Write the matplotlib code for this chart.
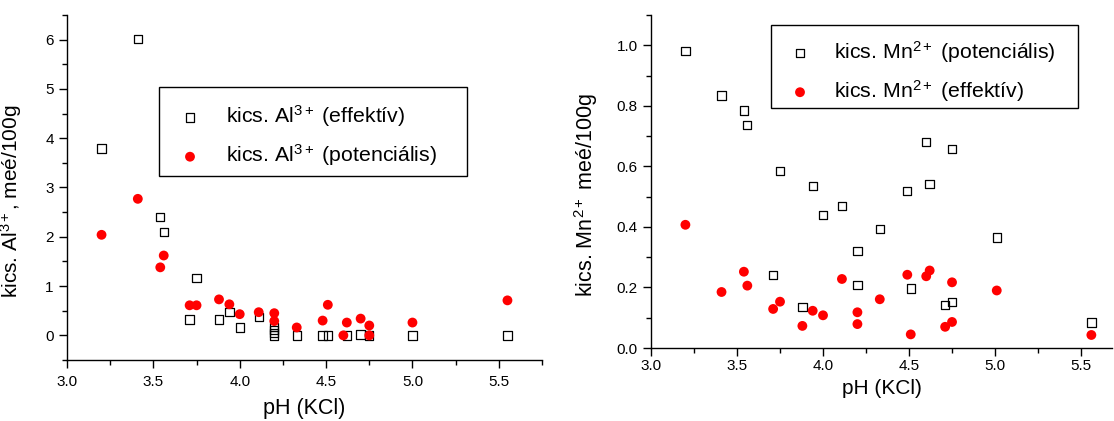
import matplotlib
matplotlib.use("Agg")
import matplotlib.pyplot as plt
from matplotlib.ticker import MultipleLocator
from matplotlib.patches import Rectangle

plt.rcParams['font.family'] = ['Liberation Sans', 'DejaVu Sans']
plt.rcParams['mathtext.fontset'] = 'custom'
plt.rcParams['mathtext.rm'] = 'Liberation Sans'
plt.rcParams['mathtext.it'] = 'Liberation Sans:italic'

# ---- Left panel: Al3+ ----
al_eff_ph = [3.20, 3.41, 3.54, 3.56, 3.75, 3.71, 3.88, 3.94, 4.00, 4.11,
             4.20, 4.20, 4.20, 4.20, 4.33, 4.48, 4.51, 4.62, 4.70, 4.75, 5.00, 5.55]
al_eff = [3.79, 6.01, 2.40, 2.10, 1.16, 0.32, 0.32, 0.47, 0.16, 0.37,
          0.17, 0.11, 0.05, 0.00, 0.00, 0.00, 0.00, 0.00, 0.02, 0.00, 0.00, 0.00]

al_pot_ph = [3.20, 3.41, 3.54, 3.56, 3.71, 3.75, 3.88, 3.94, 4.00, 4.11,
             4.20, 4.20, 4.33, 4.48, 4.51, 4.60, 4.62, 4.70, 4.75, 4.75, 5.00, 5.55]
al_pot = [2.04, 2.77, 1.38, 1.62, 0.61, 0.61, 0.73, 0.63, 0.43, 0.47,
          0.45, 0.29, 0.16, 0.30, 0.62, 0.00, 0.26, 0.34, 0.20, 0.00, 0.26, 0.71]

# ---- Right panel: Mn2+ ----
mn_ph = [3.20, 3.41, 3.54, 3.56, 3.71, 3.75, 3.88, 3.94, 4.00, 4.11,
         4.20, 4.20, 4.33, 4.49, 4.51, 4.60, 4.62, 4.71, 4.75, 4.75, 5.01, 5.56]
mn_pot = [0.982, 0.834, 0.785, 0.737, 0.241, 0.584, 0.136, 0.536, 0.439, 0.469,
          0.321, 0.208, 0.393, 0.519, 0.197, 0.680, 0.541, 0.141, 0.657, 0.151, 0.365, 0.084]
mn_eff = [0.407, 0.185, 0.252, 0.206, 0.129, 0.153, 0.073, 0.123, 0.108, 0.228,
          0.118, 0.079, 0.161, 0.242, 0.045, 0.237, 0.256, 0.070, 0.217, 0.086, 0.190, 0.043]

W, H = 1114, 421
fig = plt.figure(figsize=(W / 100, H / 100), dpi=100)

def px_axes(l, r, t, b):
    return fig.add_axes([l / W, 1 - b / H, (r - l) / W, (b - t) / H])

def fx(x):
    return x / W

def fy(y):
    return 1 - y / H

ax1 = px_axes(67, 542, 15, 360)
ax2 = px_axes(651, 1112, 15, 348)

sq = dict(marker='s', s=36, facecolors='none', edgecolors='black', linewidths=0.9)
ci = dict(marker='o', s=50, color='#ff0000', edgecolors='none')

AL = r'$\mathrm{Al}^{\mathrm{3+}}$'
MN = r'$\mathrm{Mn}^{\mathrm{2+}}$'

ax1.scatter(al_eff_ph, al_eff, label='kics. ' + AL + ' (effektív)', zorder=3, **sq)
ax1.scatter(al_pot_ph, al_pot, label='kics. ' + AL + ' (potenciális)', zorder=4, **ci)
ax1.set_xlim(3.0, 5.75)
ax1.set_ylim(-0.5, 6.5)
ax1.xaxis.set_major_locator(MultipleLocator(0.5))
ax1.xaxis.set_minor_locator(MultipleLocator(0.25))
ax1.yaxis.set_major_locator(MultipleLocator(1))
ax1.yaxis.set_minor_locator(MultipleLocator(0.5))
ax1.set_xlabel('pH (KCl)', fontsize=15.5, labelpad=6)
ax1.set_ylabel('kics. ' + AL + ', meé/100g', fontsize=15)
ax1.yaxis.set_label_coords(-0.09, 0.46)

ax2.scatter(mn_ph, mn_pot, label='kics. ' + MN + ' (potenciális)', zorder=3, **sq)
ax2.scatter(mn_ph, mn_eff, label='kics. ' + MN + ' (effektív)', zorder=4, **ci)
ax2.set_xlim(3.0, 5.68)
ax2.set_ylim(0.0, 1.1)
ax2.xaxis.set_major_locator(MultipleLocator(0.5))
ax2.xaxis.set_minor_locator(MultipleLocator(0.25))
ax2.yaxis.set_major_locator(MultipleLocator(0.2))
ax2.yaxis.set_minor_locator(MultipleLocator(0.1))
ax2.set_xlabel('pH (KCl)', fontsize=15, labelpad=4)
ax2.set_ylabel('kics. ' + MN + ' meé/100g', fontsize=15.5)
ax2.yaxis.set_label_coords(-0.11, 0.46)

for ax in (ax1, ax2):
    ax.spines['top'].set_visible(False)
    ax.spines['right'].set_visible(False)
    for s in ('left', 'bottom'):
        ax.spines[s].set_linewidth(1.0)
    ax.tick_params(which='major', direction='out', length=6, width=1, labelsize=11)
    ax.tick_params(which='minor', direction='out', length=3.5, width=1)
ax1.tick_params(axis='x', which='major', pad=5)
ax2.tick_params(axis='x', which='major', pad=2)

leg_fs = 15.3
fs_px = leg_fs * 100 / 72.0
hl = 1.0

def place_legend(ax, marker_x, rows_center_y, text_x, box):
    l, t, r, b = box
    rect = Rectangle((fx(l), fy(b)), fx(r - l), (b - t) / H, transform=fig.transFigure,
                     facecolor='white', edgecolor='black', linewidth=1.0,
                     zorder=4.5, clip_on=False)
    ax.add_patch(rect)
    handle_left = marker_x - hl * fs_px / 2
    htp = (text_x - handle_left - hl * fs_px) / fs_px
    leg = ax.legend(loc='center left', bbox_to_anchor=(fx(handle_left), fy(rows_center_y)),
                    bbox_transform=fig.transFigure, fontsize=leg_fs, frameon=False,
                    borderpad=0, borderaxespad=0, handlelength=hl, handletextpad=htp,
                    labelspacing=0.62, scatterpoints=1)
    leg.set_zorder(6)
    return leg

place_legend(ax1, 190, 136, 226, (159, 87, 467, 176))
place_legend(ax2, 800, 71.5, 834, (771, 25, 1078, 108))

fig.savefig('out.png', dpi=100)
